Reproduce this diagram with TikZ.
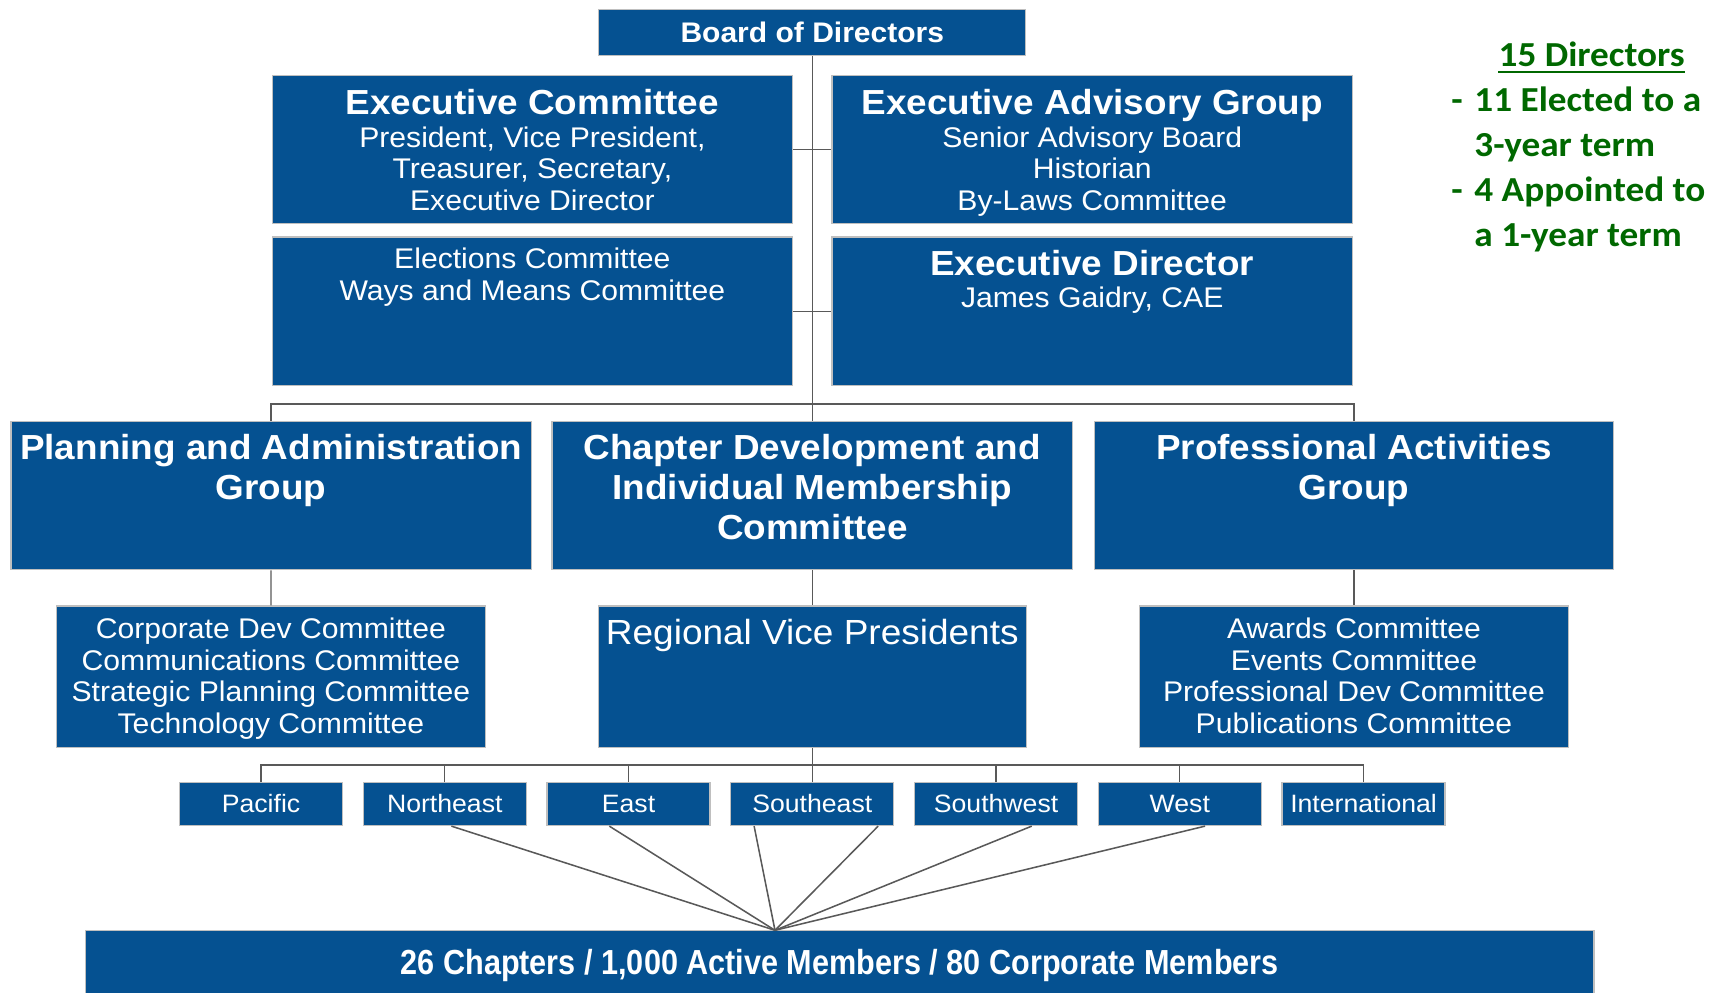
\documentclass[tikz,border=0pt]{standalone}
\usepackage{fontspec}
\setmainfont{Liberation Sans}[FakeStretch=1.06]
\newfontfamily\greenfont{Carlito}[FakeStretch=1.06]
\newfontfamily\narrowfont{Liberation Sans}[FakeStretch=0.88]
\definecolor{bb}{RGB}{5, 81, 145}
\definecolor{bd}{RGB}{191, 191, 191}
\definecolor{gg}{RGB}{0, 104, 0}
\definecolor{ll}{RGB}{89, 89, 89}

\begin{document}
\begin{tikzpicture}[
  box/.style={rectangle, fill=bb, draw=bd, line width=1.2pt, inner sep=0pt, text=white},
  wide/.style={minimum width=474pt, minimum height=135pt},
  mid/.style={minimum width=391pt, minimum height=129pt},
  region/.style={minimum width=148.5pt, minimum height=39pt, text height=15pt, text depth=0pt, font=\fontsize{22.9pt}{26pt}\selectfont},
  txt/.style={text=white, align=center, inner sep=0pt, anchor=base},
  head/.style={font=\fontsize{31.7pt}{36.5pt}\selectfont\bfseries},
  body/.style={font=\fontsize{25.9pt}{29pt}\selectfont},
  link/.style={line width=1.2pt, color=ll},
  fan/.style={line width=1.4pt, color=ll}]
\useasboundingbox (0pt, 0pt) rectangle (1566pt, -904pt);
\node (1) [box, minimum width=389pt, minimum height=42pt, font=\fontsize{25.8pt}{29pt}\selectfont\bfseries] at (740pt, -29.5pt) {Board of Directors};
\node (2) [box, wide] at (485pt, -136pt) {};
\node (3) [box, wide] at (995pt, -136pt) {};
\node (4) [box, wide] at (485pt, -283.5pt) {};
\node (5) [box, wide] at (995pt, -283.5pt) {};
\node (6) [box, wide] at (247pt, -451.5pt) {};
\node (7) [box, wide] at (740pt, -451.5pt) {};
\node (8) [box, wide, minimum width=473pt] at (1233.5pt, -451.5pt) {};
\node (9) [box, mid] at (246.8pt, -616.5pt) {};
\node (10) [box, mid, minimum width=390pt] at (740pt, -616.5pt) {};
\node (11) [box, mid] at (1233.5pt, -616.5pt) {};
\node (12) [box, region] at (237.8pt, -732.5pt) {Pacific};
\node (13) [box, region] at (405.2pt, -732.5pt) {Northeast};
\node (14) [box, region] at (572.6pt, -732.5pt) {East};
\node (15) [box, region] at (740pt, -732.5pt) {Southeast};
\node (16) [box, region] at (907.4pt, -732.5pt) {Southwest};
\node (17) [box, region] at (1074.8pt, -732.5pt) {West};
\node (18) [box, region] at (1242.2pt, -732.5pt) {International};
\node (19) [box, minimum width=1374pt, minimum height=68pt] at (765pt, -881.5pt) {};
% texts of the boxes, set at the baseline of their last line
\node (t2) [txt, body] at (485pt, -192pt) {{\fontsize{31.7pt}{35.5pt}\selectfont\bfseries Executive Committee}\\[1pt] President, Vice President,\\ Treasurer, Secretary,\\ Executive Director};
\node (t3) [txt, body] at (995pt, -192pt) {{\fontsize{31.7pt}{35.5pt}\selectfont\bfseries Executive Advisory Group}\\[1pt] Senior Advisory Board\\ Historian\\ By-Laws Committee};
\node (t4) [txt, body] at (485pt, -273.6pt) {Elections Committee\\ Ways and Means Committee};
\node (t5) [txt, body] at (995pt, -280pt) {{\fontsize{31.7pt}{35.5pt}\selectfont\bfseries Executive Director}\\ James Gaidry, CAE};
\node (t6) [txt, head] at (247pt, -455pt) {Planning and Administration\\ Group};
\node (t7) [txt, head] at (740pt, -491.5pt) {Chapter Development and\\ Individual Membership\\ Committee};
\node (t8) [txt, head] at (1233.5pt, -455pt) {Professional Activities\\ Group};
\node (t9) [txt, body] at (246.8pt, -668.5pt) {Corporate Dev Committee\\ Communications Committee\\ Strategic Planning Committee\\ Technology Committee};
\node (t10) [txt, font=\fontsize{31.8pt}{35pt}\selectfont] at (740pt, -587pt) {Regional Vice Presidents};
\node (t11) [txt, body] at (1233.5pt, -668.5pt) {Awards Committee\\ Events Committee\\ Professional Dev Committee\\ Publications Committee};
\node (t19) [txt, font=\fontsize{31.7pt}{35pt}\narrowfont\bfseries] at (765pt, -888pt) {26 Chapters / 1,000 Active Members / 80 Corporate Members};
% green note
\node (t20) [inner sep=0pt, anchor=base, text=gg, font=\fontsize{32pt}{41pt}\greenfont\bfseries] at (1450pt, -60.5pt) {15 Directors};
\node (t21) [inner sep=0pt, anchor=base west, align=left, text=gg, font=\fontsize{32pt}{41pt}\greenfont\bfseries] at (1322pt, -224.5pt) {\makebox[21pt][l]{-}11 Elected to a\\ \hspace*{21pt}3-year term\\ \makebox[21pt][l]{-}4 Appointed to\\ \hspace*{21pt}a 1-year term};
\draw [line width=1.8pt, color=gg] ([yshift=-4.8pt]t20.base west) to ([yshift=-4.8pt]t20.base east);
% connectors
\coordinate (c1) at (740pt, -368pt);
\coordinate (c2) at (740pt, -697pt);
\coordinate (c3) at (706pt, -847.5pt);
\draw [link] (1) to (7);
\draw [link] (2) to (3);
\draw [link] (4) to (5);
\draw [link] (6.north) |- (c1) -| (8.north);
\draw [link] (6) to (9);
\draw [link] (7) to (10);
\draw [link] (8) to (11);
\draw [link] (10) to (c2);
\draw [link] (12.north) |- (c2) -| (18.north);
\draw [link] (13.north) to (13.north |- c2);
\draw [link] (14.north) to (14.north |- c2);
\draw [link] (15.north) to (15.north |- c2);
\draw [link] (16.north) to (16.north |- c2);
\draw [link] (17.north) to (17.north |- c2);
\draw [fan] ([xshift=6pt]13.south) to (c3);
\draw [fan] ([xshift=-17.5pt]14.south) to (c3);
\draw [fan] ([xshift=-53pt]15.south) to (c3);
\draw [fan] ([xshift=60pt]15.south) to (c3);
\draw [fan] ([xshift=32.5pt]16.south) to (c3);
\draw [fan] ([xshift=23pt]17.south) to (c3);
\end{tikzpicture}
\end{document}
